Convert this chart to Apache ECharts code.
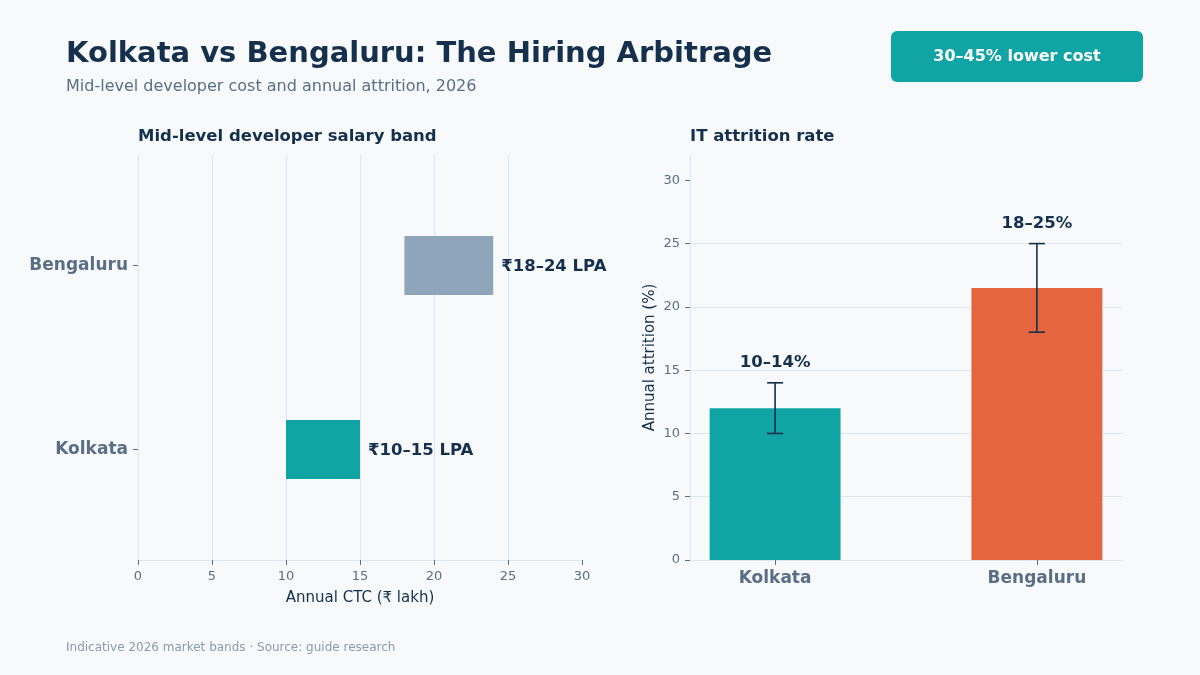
<!DOCTYPE html>
<html>
<head>
<meta charset="utf-8">
<title>Kolkata vs Bengaluru</title>
<script src="https://cdn.jsdelivr.net/npm/echarts@6/dist/echarts.min.js"></script>
<style>
  html, body { margin: 0; padding: 0; background: #f7f9fb; }
  #main { width: 1200px; height: 675px; }
</style>
</head>
<body>
<div id="main"></div>
<script>
// 数据
const cities = ["Kolkata", "Bengaluru"];
const salaryLow = [10, 18];
const salaryHigh = [15, 24];
const salaryLabels = ["₹10–15 LPA", "₹18–24 LPA"];
const attritionMid = [12, 21.5];
const attritionLow = [10, 18];
const attritionHigh = [14, 25];
const attritionLabels = ["10–14%", "18–25%"];
const attritionTicks = [0, 5, 10, 15, 20, 25, 30];
const cityPos = [0, 1];

const FONT = "DejaVu Sans";
const NAVY = "#15304d";
const MUTED = "#5a6f86";
const GRID = "#dce6f0";
const TEAL = "#10a4a4";
const barColors = { salary: ["#10a4a4", "#8fa6ba"], attrition: ["#10a4a4", "#e4653e"] };

const chart = echarts.init(document.getElementById("main"));

chart.setOption({
  backgroundColor: "#f7f9fb",
  textStyle: { fontFamily: FONT },
  title: [
    {
      text: "Kolkata vs Bengaluru: The Hiring Arbitrage",
      left: 66, top: 40, padding: 0,
      textStyle: { fontFamily: FONT, fontSize: 29, fontWeight: "bold", color: NAVY },
    },
    {
      text: "Mid-level developer cost and annual attrition, 2026",
      left: 66, top: 79, padding: 0,
      textStyle: { fontFamily: FONT, fontSize: 16, fontWeight: "normal", color: MUTED },
    },
    {
      text: "Mid-level developer salary band",
      left: 138, top: 128, padding: 0,
      textStyle: { fontFamily: FONT, fontSize: 16.5, fontWeight: "bold", color: NAVY },
    },
    {
      text: "IT attrition rate",
      left: 690, top: 128, padding: 0,
      textStyle: { fontFamily: FONT, fontSize: 16.5, fontWeight: "bold", color: NAVY },
    },
    {
      text: "Indicative 2026 market bands · Source: guide research",
      left: 66, top: 642, padding: 0,
      textStyle: { fontFamily: FONT, fontSize: 12, fontWeight: "normal", color: "#8a9bab" },
    },
  ],
  graphic: [
    {
      type: "group",
      left: 891, top: 31,
      children: [
        { type: "rect", shape: { x: 0, y: 0, width: 252, height: 51, r: 6 }, style: { fill: TEAL } },
        {
          type: "text", x: 126, y: 25.5,
          style: {
            text: "30–45% lower cost", fill: "#ffffff", align: "center", verticalAlign: "middle",
            font: "bold 16px 'DejaVu Sans'",
          },
        },
      ],
    },
  ],
  grid: [
    { left: 138, right: 618, top: 155, bottom: 115 },
    { left: 690, right: 78, top: 155, bottom: 115 },
  ],
  xAxis: [
    {
      gridIndex: 0, type: "value", min: 0, max: 30, interval: 5,
      name: "Annual CTC (₹ lakh)", nameLocation: "middle", nameGap: 31,
      nameTextStyle: { fontFamily: FONT, fontSize: 15, color: NAVY },
      axisLine: { show: true, onZero: false, lineStyle: { color: GRID } },
      axisTick: { show: true, length: 5, lineStyle: { color: MUTED } },
      axisLabel: { fontFamily: FONT, fontSize: 13, color: MUTED, margin: 10 },
      splitLine: { show: true, showMaxLine: false, lineStyle: { color: GRID } },
    },
    {
      gridIndex: 1, type: "value", min: -0.325, max: 1.325,
      axisLine: { show: true, onZero: false, lineStyle: { color: GRID } },
      axisTick: { show: true, length: 5, customValues: cityPos, lineStyle: { color: MUTED } },
      axisLabel: {
        customValues: cityPos, fontFamily: FONT, fontSize: 17, fontWeight: "bold", color: MUTED, margin: 10,
        formatter: (v) => cities[Math.round(v)],
      },
      splitLine: { show: false },
    },
  ],
  yAxis: [
    {
      gridIndex: 0, type: "value", min: -0.6, max: 1.6,
      axisLine: { show: true, onZero: false, lineStyle: { color: GRID } },
      axisTick: { show: true, length: 5, customValues: cityPos, lineStyle: { color: MUTED } },
      axisLabel: {
        customValues: cityPos, fontFamily: FONT, fontSize: 17, fontWeight: "bold", color: MUTED, margin: 10,
        padding: [4, 0, 0, 0],
        formatter: (v) => cities[Math.round(v)],
      },
      splitLine: { show: false },
    },
    {
      gridIndex: 1, type: "value", min: 0, max: 32, interval: 5,
      name: "Annual attrition (%)", nameLocation: "middle", nameGap: 32,
      nameTextStyle: { fontFamily: FONT, fontSize: 15, color: NAVY },
      axisLine: { show: true, onZero: false, lineStyle: { color: GRID } },
      axisTick: { show: true, length: 5, customValues: attritionTicks, lineStyle: { color: MUTED } },
      axisLabel: { customValues: attritionTicks, fontFamily: FONT, fontSize: 13, color: MUTED, margin: 10 },
      splitLine: { show: true, showMaxLine: false, lineStyle: { color: GRID } },
    },
  ],
  series: [
    // 薪资区间
    {
      type: "custom",
      xAxisIndex: 0, yAxisIndex: 0,
      encode: { x: [1, 2], y: 0 },
      data: cities.map((c, i) => [cityPos[i], salaryLow[i], salaryHigh[i]]),
      renderItem: function (params, api) {
        const i = params.dataIndex;
        const y = api.value(0);
        const start = api.coord([api.value(1), y]);
        const end = api.coord([api.value(2), y]);
        const h = api.size([0, 0.32])[1];
        return {
          type: "group",
          children: [
            {
              type: "rect",
              shape: { x: start[0], y: start[1] - h / 2, width: end[0] - start[0], height: h },
              style: { fill: barColors.salary[i] },
            },
            {
              type: "text",
              x: end[0] + 8, y: end[1] + 1,
              style: {
                text: salaryLabels[i], fill: NAVY, align: "left", verticalAlign: "middle",
                font: "bold 16.5px 'DejaVu Sans'",
              },
            },
          ],
        };
      },
    },
    // 离职率柱
    {
      type: "custom",
      xAxisIndex: 1, yAxisIndex: 1,
      encode: { x: 0, y: 1 },
      data: cities.map((c, i) => [cityPos[i], attritionMid[i]]),
      renderItem: function (params, api) {
        const i = params.dataIndex;
        const base = api.coord([api.value(0), 0]);
        const top = api.coord([api.value(0), api.value(1)]);
        const w = api.size([0.5, 0])[0];
        return {
          type: "rect",
          shape: { x: base[0] - w / 2, y: top[1], width: w, height: base[1] - top[1] },
          style: { fill: barColors.attrition[i] },
        };
      },
    },
    // 误差线
    {
      type: "custom",
      xAxisIndex: 1, yAxisIndex: 1,
      encode: { x: 0, y: [1, 2] },
      z: 5,
      data: cities.map((c, i) => [cityPos[i], attritionLow[i], attritionHigh[i]]),
      renderItem: function (params, api) {
        const i = params.dataIndex;
        const lo = api.coord([api.value(0), api.value(1)]);
        const hi = api.coord([api.value(0), api.value(2)]);
        const cap = 8;
        const ls = { stroke: NAVY, lineWidth: 1.6 };
        return {
          type: "group",
          children: [
            { type: "line", shape: { x1: lo[0], y1: lo[1], x2: hi[0], y2: hi[1] }, style: ls },
            { type: "line", shape: { x1: lo[0] - cap, y1: lo[1], x2: lo[0] + cap, y2: lo[1] }, style: ls },
            { type: "line", shape: { x1: hi[0] - cap, y1: hi[1], x2: hi[0] + cap, y2: hi[1] }, style: ls },
            {
              type: "text",
              x: hi[0], y: hi[1] - 20,
              style: {
                text: attritionLabels[i], fill: NAVY, align: "center", verticalAlign: "middle",
                font: "bold 16.5px 'DejaVu Sans'",
              },
            },
          ],
        };
      },
    },
  ],
});

window.addEventListener("resize", () => chart.resize());
</script>
</body>
</html>
